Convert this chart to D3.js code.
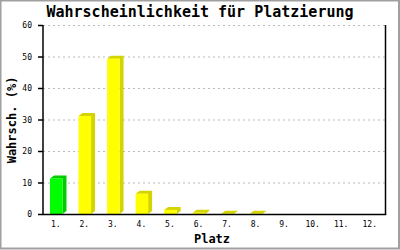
<!DOCTYPE html>
<html>
<head>
<meta charset="utf-8">
<script src="https://cdn.jsdelivr.net/npm/d3@7"></script>
<style>
  body { margin: 0; background: #fff; }
  svg { display: block; }
</style>
</head>
<body>
<svg id="canvas" width="400" height="250"></svg>
<script>
let places = ['1.', '2.', '3.', '4.', '5.', '6.', '7.', '8.', '9.', '10.', '11.', '12.']
let percent = [11.3, 31.1, 49.3, 6.4, 1.3, 0.4, 0.1, 0.1, 0, 0, 0, 0]
let yTicks = [0, 10, 20, 30, 40, 50, 60]

let canvas = d3.select('#canvas')
let mono = "'DejaVu Sans Mono', 'Liberation Mono', monospace"

let plotLeft = 43, plotRight = 385.5, plotTop = 25, plotBottom = 214

let xScale = d3.scaleBand().domain(places).range([plotLeft, plotRight])
let yScale = d3.scaleLinear().domain([0, 60]).range([plotBottom, plotTop])

// frame
canvas.append('rect')
  .attr('x', 0.5).attr('y', 0.5).attr('width', 398.5).attr('height', 248)
  .attr('fill', 'none').attr('stroke', '#a0a0a0').attr('stroke-width', 2)

// grid
canvas.append('g').selectAll('line')
  .data(yTicks.filter(t => t > 0))
  .enter()
  .append('line')
  .attr('x1', plotLeft).attr('x2', plotRight)
  .attr('y1', t => yScale(t) + 0.5).attr('y2', t => yScale(t) + 0.5)
  .attr('stroke', '#bbbbbb')
  .attr('stroke-dasharray', '2,3')

// bars (front, side, top)
let barW = 12.5, dx = 4, dy = 3
let bars = canvas.append('g').selectAll('g')
  .data(places.map((p, i) => ({ place: p, value: percent[i] })).filter(d => d.value > 0))
  .enter()
  .append('g')

let front = d => xScale(d.place) + 7
let dark = d => d.place === '1.' ? '#00cc00' : '#d4d400'
let light = d => d.place === '1.' ? '#00ff00' : '#ffff00'

bars.append('path')
  .attr('fill', dark)
  .attr('d', d => {
    let x0 = front(d), x1 = x0 + barW, y = yScale(d.value), b = yScale(0)
    return 'M' + x0 + ',' + y + 'L' + (x0 + dx) + ',' + (y - dy) + 'L' + (x1 + dx) + ',' + (y - dy) +
      'L' + (x1 + dx) + ',' + (b - dy) + 'L' + x1 + ',' + b + 'L' + x1 + ',' + y + 'Z'
  })

bars.append('rect')
  .attr('fill', light)
  .attr('x', front)
  .attr('y', d => yScale(d.value))
  .attr('width', barW)
  .attr('height', d => yScale(0) - yScale(d.value))

// axes lines
canvas.append('line')
  .attr('x1', plotLeft).attr('x2', plotLeft).attr('y1', plotTop).attr('y2', plotBottom + 1)
  .attr('stroke', '#000').attr('stroke-width', 1.5)
canvas.append('line')
  .attr('x1', plotRight).attr('x2', plotRight).attr('y1', plotTop).attr('y2', plotBottom + 1)
  .attr('stroke', '#000').attr('stroke-width', 1.5)
canvas.append('line')
  .attr('x1', plotLeft).attr('x2', plotRight + 0.75).attr('y1', plotBottom + 0.5).attr('y2', plotBottom + 0.5)
  .attr('stroke', '#000').attr('stroke-width', 1.5)

// y ticks
let yt = canvas.append('g').selectAll('g')
  .data(yTicks)
  .enter()
  .append('g')
yt.append('line')
  .attr('x1', plotLeft - 5).attr('x2', plotLeft)
  .attr('y1', t => yScale(t) + 0.5).attr('y2', t => yScale(t) + 0.5)
  .attr('stroke', '#000').attr('stroke-width', 1.5)
yt.append('text')
  .text(t => t)
  .attr('x', 32).attr('y', t => yScale(t) + 3)
  .attr('text-anchor', 'end')
  .style('font-family', mono).style('font-size', '8px')

// x labels
canvas.append('g').selectAll('text')
  .data(places)
  .enter()
  .append('text')
  .text(p => p)
  .attr('x', p => xScale(p) + xScale.bandwidth() / 2 - 1.5)
  .attr('y', 227)
  .attr('text-anchor', 'middle')
  .style('font-family', mono).style('font-size', '8px')

// titles
canvas.append('text')
  .text('Wahrscheinlichkeit für Platzierung')
  .attr('x', 200).attr('y', 17)
  .attr('text-anchor', 'middle')
  .style('font-family', mono).style('font-size', '15px').style('font-weight', 'bold')

canvas.append('text')
  .text('Platz')
  .attr('x', 212).attr('y', 243)
  .attr('text-anchor', 'middle')
  .style('font-family', mono).style('font-size', '12px').style('font-weight', 'bold')

canvas.append('text')
  .text('Wahrsch. (%)')
  .attr('transform', 'translate(16,120) rotate(-90)')
  .attr('text-anchor', 'middle')
  .style('font-family', mono).style('font-size', '12px').style('font-weight', 'bold')
</script>
</body>
</html>
